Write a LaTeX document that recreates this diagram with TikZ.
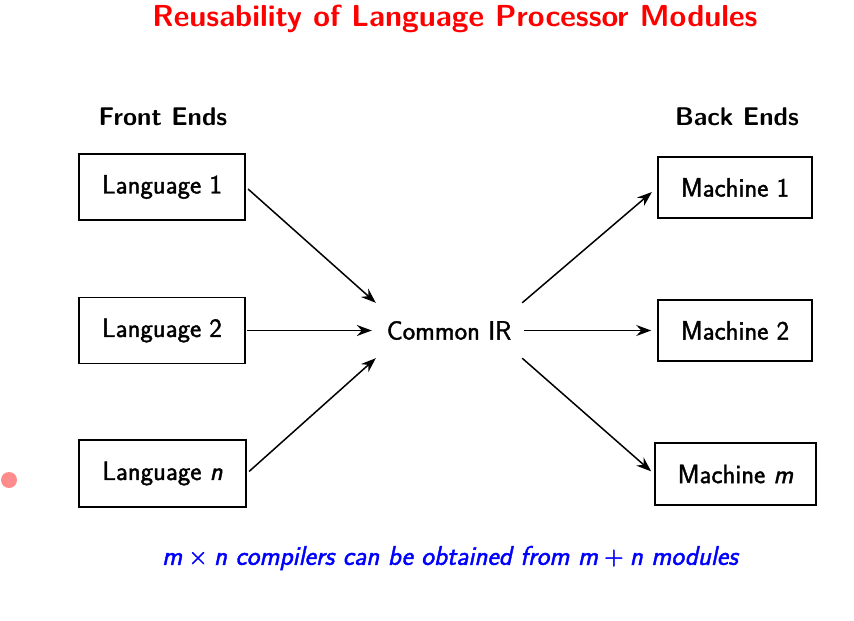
\documentclass[tikz,border=0pt]{standalone}
\usetikzlibrary{arrows.meta}
\newcommand{\heavytxt}[1]{\special{pdf:literal direct 2 Tr 0.4 w}#1\special{pdf:literal direct 0 Tr}}
\begin{document}
\begin{tikzpicture}[x=1pt,y=-1pt,
  every node/.style={font=\sffamily\fontsize{26.5}{30}\selectfont},
  box/.style={draw, line width=1.6pt, inner sep=0pt},
  lbl/.style={font=\sffamily\bfseries\fontsize{25.6}{30}\selectfont},
  arr/.style={line width=1.5pt, -{Stealth[length=15pt,width=11pt,inset=5pt]}}
]
\useasboundingbox (0,0) rectangle (854,621);
\node[font=\sffamily\bfseries\fontsize{30.4}{34}\selectfont, text=red] (title) at (455,19) {Reusability of Language Processor Modules};
\node[lbl] (fe) at (163,117) {Front Ends};
\node[lbl] (be) at (737,117) {Back Ends};
\node[box, minimum width=166pt, minimum height=66pt] (L1) at (162,187) {\heavytxt{Language 1}};
\node[box, minimum width=166pt, minimum height=66pt] (L2) at (162,330.5) {\heavytxt{Language 2}};
\node[box, minimum width=167pt, minimum height=67pt] (Ln) at (162.5,473.5) {\heavytxt{Language \textit{n}}};
\node[box, minimum width=154pt, minimum height=61pt] (M1) at (735,187.5) {\heavytxt{Machine 1}};
\node[box, minimum width=154pt, minimum height=61pt] (M2) at (735,330.5) {\heavytxt{Machine 2}};
\node[box, minimum width=161pt, minimum height=62pt] (Mm) at (735.5,474) {\heavytxt{Machine \textit{m}}};
\node[minimum width=146pt, minimum height=55pt, inner sep=0pt] (IR) at (449,330.5) {\heavytxt{Common IR}};
\draw[arr, shorten <=3pt] (L1.east) -- (IR.north west);
\draw[arr, shorten <=1pt, shorten >=4pt] (L2.east) -- (IR.west);
\draw[arr, shorten <=3pt] (Ln.east) -- (IR.south west);
\draw[arr, shorten >=7pt] (IR.north east) -- (M1.west);
\draw[arr, shorten <=2pt, shorten >=6pt] (IR.east) -- (M2.west);
\draw[arr, shorten >=4pt] (IR.south east) -- (Mm.west);
\node[font=\sffamily\itshape\fontsize{27}{30}\selectfont, text=blue] (note) at (450,558) {\heavytxt{m\hspace{6pt}{\upshape\texttimes}\hspace{6pt}n compilers can be obtained from m\hspace{6pt}{\upshape+}\hspace{6pt}n modules}};
\fill[red!45!white] (9,480) circle (8pt);
\end{tikzpicture}
\end{document}
